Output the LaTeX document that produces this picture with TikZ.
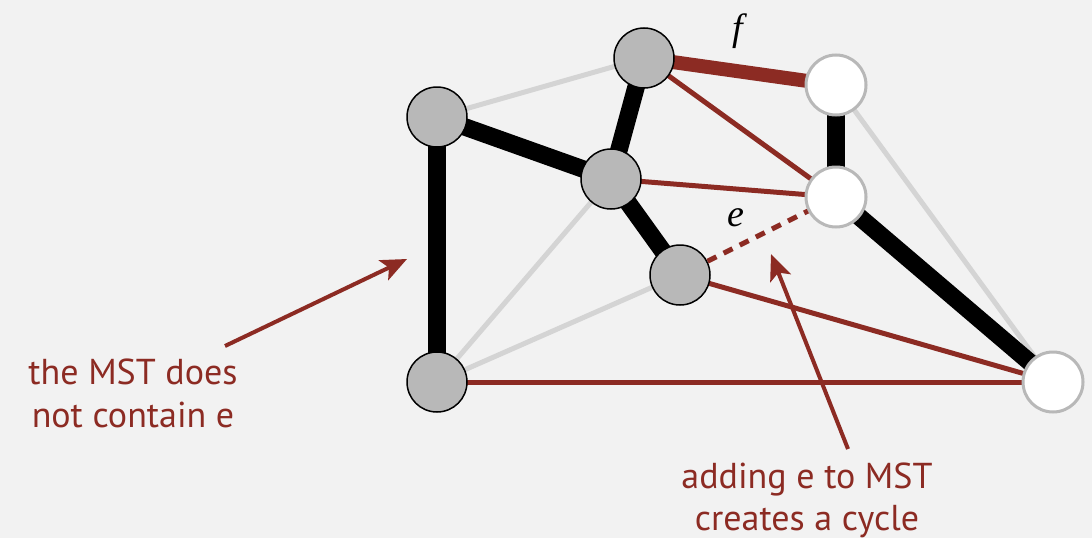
\documentclass[tikz,border=0pt]{standalone}
\usepackage{fontspec}
\setsansfont{PT Sans}
\newfontfamily\timesfont{Liberation Serif}
\usetikzlibrary{arrows.meta}
\definecolor{bg}{HTML}{F2F2F2}
\definecolor{mred}{HTML}{8C2B23}
\definecolor{lgray}{HTML}{D4D4D4}
\definecolor{ngray}{HTML}{B8B8B8}
\begin{document}
\begin{tikzpicture}[x=1pt,y=-1pt,
  gnode/.style={circle,draw=black,line width=1.5pt,fill=ngray,minimum size=60pt,inner sep=0pt},
  wnode/.style={circle,draw=ngray,line width=3pt,fill=white,minimum size=60pt,inner sep=0pt},
  mst/.style={line width=17.5pt,black},
  light/.style={line width=5pt,lgray},
  redthin/.style={line width=5pt,mred},
  redthick/.style={line width=14pt,mred},
  redDash/.style={line width=5pt,mred,dash pattern=on 10pt off 8pt},
  note/.style={font=\sffamily\fontsize{36}{43}\selectfont,text=mred,anchor=base,inner sep=0pt},
  pointer/.style={line width=4pt,mred,-{Stealth[length=26pt,width=22pt,inset=6pt]}},
  lbl/.style={font=\timesfont\itshape\fontsize{38}{38}\selectfont,inner sep=0pt,anchor=base}
]
\fill[bg] (0,0) rectangle (1092,538);
\useasboundingbox (0,0) rectangle (1092,538);
\coordinate (Ac) at (437,117);
\coordinate (Bc) at (644,58);
\coordinate (Cc) at (611,179);
\coordinate (Dc) at (680,275);
\coordinate (Ec) at (437,382);
\coordinate (Fc) at (836,85);
\coordinate (Gc) at (836,197);
\coordinate (Hc) at (1053,382);
% edges
\draw[light] (Ac) -- (Bc);
\draw[light] (Cc) -- (Ec);
\draw[light] (Dc) -- (Ec);
\draw[light] (Fc) -- (Hc);
\draw[redthin] (Bc) -- (Gc);
\draw[redthin] (Cc) -- (Gc);
\draw[redthin] (Dc) -- (Hc);
\draw[redthin] (Ec) -- (Hc);
\draw[redthick] (Bc) -- (Fc);
\draw[mst] (Ac) -- (Cc);
\draw[mst] (Ac) -- (Ec);
\draw[mst] (Bc) -- (Cc);
\draw[mst] (Cc) -- (Dc);
\draw[mst] (Fc) -- (Gc);
\draw[mst] (Gc) -- (Hc);
% nodes
\node[gnode] (A) at (Ac) {};
\node[gnode] (B) at (Bc) {};
\node[gnode] (C) at (Cc) {};
\node[gnode] (D) at (Dc) {};
\node[gnode] (E) at (Ec) {};
\node[wnode] (F) at (Fc) {};
\node[wnode] (G) at (Gc) {};
\node[wnode] (H) at (Hc) {};
\draw[redDash] (D) -- (G);
% labels
\node[lbl] (flbl) at (738,40) {f};
\node[lbl] (elbl) at (736,226) {e};
% notes
\node[note] (n1a) at (133,384) {the MST does};
\node[note] (n1b) at (133,427) {not contain e};
\node[note] (n2a) at (807,488) {adding e to MST};
\node[note] (n2b) at (807,530) {creates a cycle};
\coordinate (t1) at (407,259);
\coordinate (t2) at (771,254);
\coordinate (s1) at (225,346);
\coordinate (s2) at (848,449);
\draw[pointer] (s1) -- (t1);
\draw[pointer] (s2) -- (t2);
\end{tikzpicture}
\end{document}
